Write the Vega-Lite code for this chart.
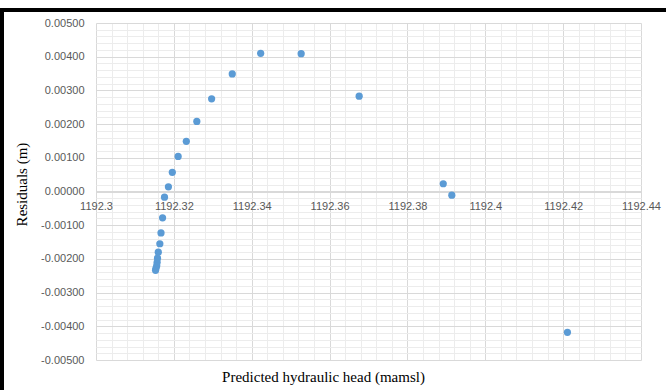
{
  "$schema": "https://vega.github.io/schema/vega-lite/v6.json",
  "width": 545,
  "height": 337,
  "autosize": "none",
  "padding": {"left": 96, "top": 23, "right": 25, "bottom": 30},
  "background": "white",
  "config": {
    "view": {"stroke": null},
    "axis": {"labelFont": "Liberation Sans", "titleFont": "Liberation Serif"}
  },
  "data": {
    "values": [
      {"head": 1192.3423, "residual": 0.00410},
      {"head": 1192.3527, "residual": 0.00409},
      {"head": 1192.3350, "residual": 0.00349},
      {"head": 1192.3297, "residual": 0.00275},
      {"head": 1192.3259, "residual": 0.00208},
      {"head": 1192.3232, "residual": 0.00149},
      {"head": 1192.3211, "residual": 0.00104},
      {"head": 1192.3196, "residual": 0.00057},
      {"head": 1192.3186, "residual": 0.00014},
      {"head": 1192.3176, "residual": -0.00017},
      {"head": 1192.3171, "residual": -0.00078},
      {"head": 1192.3167, "residual": -0.00123},
      {"head": 1192.3164, "residual": -0.00155},
      {"head": 1192.3160, "residual": -0.00180},
      {"head": 1192.3158, "residual": -0.00198},
      {"head": 1192.3157, "residual": -0.00210},
      {"head": 1192.3156, "residual": -0.00220},
      {"head": 1192.3154, "residual": -0.00228},
      {"head": 1192.3153, "residual": -0.00234},
      {"head": 1192.3676, "residual": 0.00283},
      {"head": 1192.3892, "residual": 0.00023},
      {"head": 1192.3914, "residual": -0.00011},
      {"head": 1192.4211, "residual": -0.00418}
    ]
  },
  "resolve": {"axis": {"x": "independent", "y": "independent"}},
  "layer": [
    {
      "description": "Outer chart frame plus the minor gridlines",
      "mark": {"type": "rect", "fill": null, "stroke": "black", "strokeWidth": 3, "clip": false},
      "encoding": {
        "x": {
          "datum": 1192.2759,
          "type": "quantitative",
          "scale": {"domain": [1192.3, 1192.44], "nice": false, "zero": false},
          "axis": {
            "orient": "bottom",
            "title": null,
            "labels": false,
            "ticks": false,
            "domain": false,
            "grid": true,
            "gridColor": "#ececec",
            "gridWidth": 1,
            "values": [1192.304, 1192.308, 1192.312, 1192.316, 1192.324, 1192.328, 1192.332, 1192.336, 1192.344, 1192.348, 1192.352, 1192.356, 1192.364, 1192.368, 1192.372, 1192.376, 1192.384, 1192.388, 1192.392, 1192.396, 1192.404, 1192.408, 1192.412, 1192.416, 1192.424, 1192.428, 1192.432, 1192.436]
          }
        },
        "x2": {"datum": 1192.48},
        "y": {
          "datum": 0.005386,
          "type": "quantitative",
          "scale": {"domain": [-0.005, 0.005], "nice": false, "zero": false},
          "axis": {
            "orient": "left",
            "title": null,
            "labels": false,
            "ticks": false,
            "domain": false,
            "grid": true,
            "gridColor": "#ececec",
            "gridWidth": 1,
            "values": [-0.0048, -0.0046, -0.0044, -0.0042, -0.0038, -0.0036, -0.0034, -0.0032, -0.0028, -0.0026, -0.0024, -0.0022, -0.0018, -0.0016, -0.0014, -0.0012, -0.0008, -0.0006, -0.0004, -0.0002, 0.0002, 0.0004, 0.0006, 0.0008, 0.0012, 0.0014, 0.0016, 0.0018, 0.0022, 0.0024, 0.0026, 0.0028, 0.0032, 0.0034, 0.0036, 0.0038, 0.0042, 0.0044, 0.0046, 0.0048]
          }
        },
        "y2": {"datum": -0.0068}
      }
    },
    {
      "description": "Residuals against predicted head",
      "mark": {"type": "point", "filled": true, "shape": "circle", "size": 52, "color": "#5b9bd5", "opacity": 1},
      "encoding": {
        "x": {
          "field": "head",
          "type": "quantitative",
          "scale": {"domain": [1192.3, 1192.44], "nice": false, "zero": false},
          "axis": {
            "orient": "bottom",
            "offset": -169,
            "title": "Predicted hydraulic head (mamsl)",
            "titleFontSize": 15,
            "titleFontWeight": "normal",
            "titleColor": "#000000",
            "titleX": 227,
            "titleY": 185,
            "titleBaseline": "middle",
            "titleAnchor": null,
            "titleAlign": "center",
            "values": [1192.3, 1192.32, 1192.34, 1192.36, 1192.38, 1192.4, 1192.42, 1192.44],
            "labelExpr": "format(datum.value, '.2~f')",
            "labelFontSize": 11,
            "labelColor": "#595959",
            "labelPadding": 9,
            "labelOverlap": false,
            "labelFlush": false,
            "ticks": false,
            "tickSize": 0,
            "domain": true,
            "domainColor": "#d9d9d9",
            "domainWidth": 1,
            "grid": true,
            "gridColor": "#d9d9d9",
            "gridWidth": 1
          }
        },
        "y": {
          "field": "residual",
          "type": "quantitative",
          "scale": {"domain": [-0.005, 0.005], "nice": false, "zero": false},
          "axis": {
            "orient": "left",
            "title": "Residuals (m)",
            "titleFontSize": 15,
            "titleFontWeight": "normal",
            "titleColor": "#000000",
            "titleX": -75,
            "titleY": 161,
            "titleAngle": -90,
            "titleBaseline": "middle",
            "titleAlign": "center",
            "values": [-0.005, -0.004, -0.003, -0.002, -0.001, 0, 0.001, 0.002, 0.003, 0.004, 0.005],
            "labelExpr": "replace(format(datum.value, '.5f'), '\u2212', '-')",
            "labelFontSize": 11,
            "labelColor": "#595959",
            "labelPadding": 12,
            "labelOverlap": false,
            "labelFlush": false,
            "ticks": false,
            "tickSize": 0,
            "domain": false,
            "grid": true,
            "gridColor": "#d9d9d9",
            "gridWidth": 1
          }
        }
      }
    }
  ]
}
